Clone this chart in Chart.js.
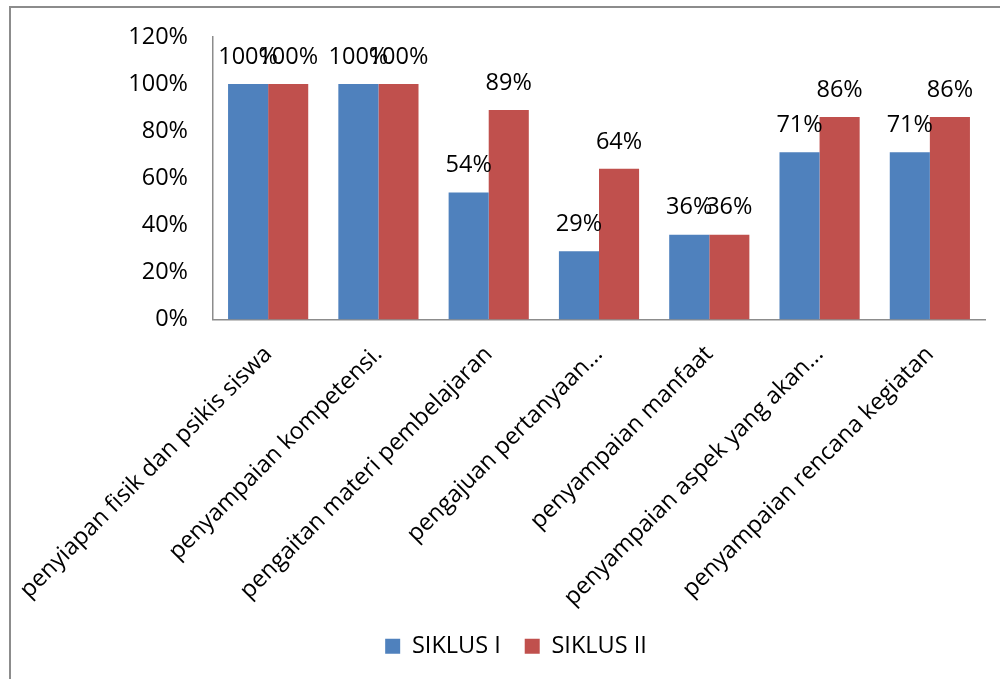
<!DOCTYPE html>
<html>
<head>
<meta charset="utf-8">
<script src="https://cdn.jsdelivr.net/npm/chart.js@4/dist/chart.umd.min.js"></script>
<style>
  html, body { margin: 0; padding: 0; background: #fff; }
  #wrap { width: 1000px; height: 679px; position: relative; }
</style>
</head>
<body>
<div id="wrap"><canvas id="c" width="1000" height="679"></canvas></div>
<script>
// Aspek yang diamati
const categories = [
  'penyiapan fisik dan psikis siswa',
  'penyampaian kompetensi.',
  'pengaitan materi pembelajaran',
  'pengajuan pertanyaan...',
  'penyampaian manfaat',
  'penyampaian aspek yang akan...',
  'penyampaian rencana kegiatan'
];
// Persentase per siklus
const siklus1 = [100, 100, 54, 29, 36, 71, 71];
const siklus2 = [100, 100, 89, 64, 36, 86, 86];
const seriesNames = ['SIKLUS I', 'SIKLUS II'];
// Sumbu Y
const yMin = 0, yMax = 120, yStep = 20;

const FONT = "'Open Sans', sans-serif";
const FSIZE = 23.5;

// Outer frame (left and top edges visible)
const framePlugin = {
  id: 'frame',
  beforeDraw(chart) {
    const ctx = chart.ctx;
    ctx.save();
    ctx.strokeStyle = '#8c8c8c';
    ctx.lineWidth = 2;
    ctx.beginPath();
    ctx.moveTo(10, chart.height + 5);
    ctx.lineTo(10, 7);
    ctx.lineTo(chart.width + 5, 7);
    ctx.stroke();
    ctx.restore();
  }
};

// Value labels above each bar
const valueLabels = {
  id: 'valueLabels',
  afterDatasetsDraw(chart) {
    const ctx = chart.ctx;
    ctx.save();
    ctx.font = FSIZE + 'px ' + FONT;
    ctx.fillStyle = '#000';
    ctx.textAlign = 'center';
    ctx.textBaseline = 'middle';
    chart.data.datasets.forEach((ds, i) => {
      chart.getDatasetMeta(i).data.forEach((bar, j) => {
        ctx.fillText(ds.data[j] + '%', bar.x, bar.y - 27);
      });
    });
    ctx.restore();
  }
};

new Chart(document.getElementById('c'), {
  type: 'bar',
  data: {
    labels: categories,
    datasets: [
      { label: seriesNames[0], data: siklus1, backgroundColor: '#4F81BD' },
      { label: seriesNames[1], data: siklus2, backgroundColor: '#C0504D' }
    ]
  },
  options: {
    responsive: false,
    animation: false,
    devicePixelRatio: 1,
    layout: { padding: { left: 47, right: 15, top: 37, bottom: 11 } },
    datasets: { bar: { categoryPercentage: 0.727, barPercentage: 1.0 } },
    plugins: {
      tooltip: { enabled: false },
      legend: {
        position: 'bottom',
        labels: {
          font: { family: FONT, size: FSIZE },
          color: '#000',
          boxWidth: 15,
          boxHeight: 15,
          padding: 24
        }
      }
    },
    scales: {
      x: {
        grid: { display: false },
        border: { display: true, color: '#8c8c8c', width: 1.5 },
        ticks: {
          autoSkip: false,
          minRotation: 45,
          maxRotation: 45,
          padding: 13,
          color: '#000',
          font: { family: FONT, size: FSIZE }
        },
        afterFit(scale) {
          scale.height = 291;
          // rotated labels may overhang to the left; keep the plot edge fixed
          scale.paddingLeft = 0;
          scale.paddingRight = 0;
        }
      },
      y: {
        min: yMin,
        max: yMax,
        grid: { display: false },
        border: { display: true, color: '#8c8c8c', width: 1.5 },
        ticks: {
          stepSize: yStep,
          padding: 17,
          color: '#000',
          font: { family: FONT, size: FSIZE },
          callback: v => v + '%'
        },
        afterFit(scale) { scale.width = 166; }
      }
    }
  },
  plugins: [framePlugin, valueLabels]
});
</script>
</body>
</html>
